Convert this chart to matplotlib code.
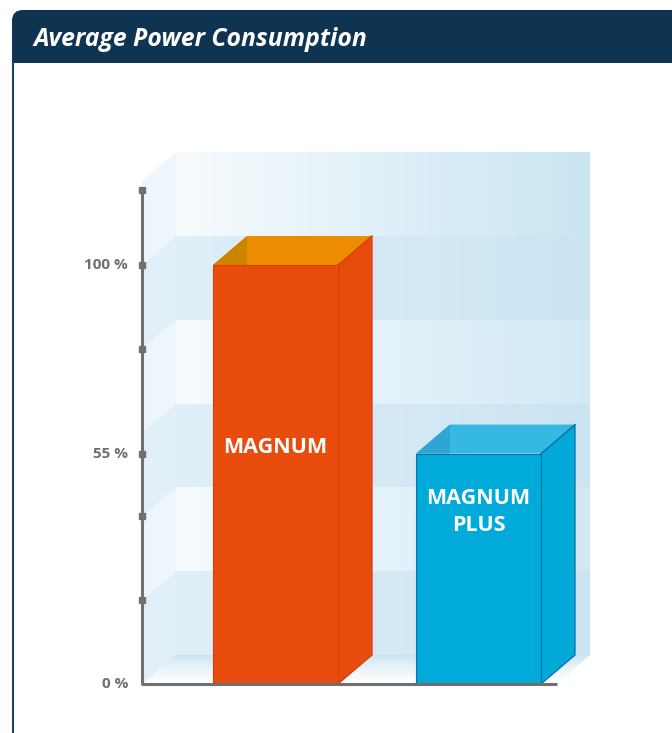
import numpy as np
import matplotlib
matplotlib.use("Agg")
import matplotlib.pyplot as plt
from matplotlib.patches import Polygon, Rectangle, FancyBboxPatch
from matplotlib.colors import to_rgb

# ---------------- data ----------------
categories = ["MAGNUM", "MAGNUM\nPLUS"]
values = [100, 55]
tick_values = [20, 40, 55, 80, 100, 118]
label_values = [0, 55, 100]
label_texts = ["0 %", "55 %", "100 %"]
grid_values = [0, 20, 40, 60, 80, 100, 120]
title = "Average Power Consumption"

# ---------------- layout ----------------
W, H, DPI = 672, 733, 100
X0, UNIT = 275.5, 203.0          # px of category 0, px per category unit
PX_PER_PCT = 4.19
BASE_PX = 684
TOP_VAL = 130
BAR_W = 125 / UNIT
DX = 34 / UNIT
DY = 29 / PX_PER_PCT
label_y = [56.5, 41.0]

def xd(px):
    return (px - X0) / UNIT

plt.rcParams['font.family'] = ['Open Sans', 'DejaVu Sans']

fig = plt.figure(figsize=(W / DPI, H / DPI), dpi=DPI)
fig.patch.set_facecolor('white')

# background / decoration axes in pixel coordinates
bg = fig.add_axes([0, 0, 1, 1])
bg.set_xlim(0, W)
bg.set_ylim(H, 0)
bg.axis('off')
navy = '#0f3452'
bg.add_patch(FancyBboxPatch((12, 10), 720, 53, boxstyle="round,pad=0,rounding_size=11",
                            fc=navy, ec='none', zorder=1))
bg.add_patch(Rectangle((12, 40), 720, 23, fc=navy, ec='none', zorder=1))
bg.plot([13, 13], [62, H + 2], color='#1b4463', lw=1.5, zorder=1, solid_capstyle='butt')
bg.text(33, 39, title, color='white', fontsize=17.8, fontweight='bold', fontstyle='italic',
        va='center', ha='left', zorder=2)

# main chart axes
top_px = BASE_PX - TOP_VAL * PX_PER_PCT
ax = fig.add_axes([142 / W, (H - BASE_PX) / H, (600 - 142) / W, (BASE_PX - top_px) / H])
ax.patch.set_alpha(0)
ax.axis('off')

def gradient_img(c1, c2, n=256, vertical=False, power=1.0):
    t = np.linspace(0, 1, n) ** power
    a, b = np.array(to_rgb(c1)), np.array(to_rgb(c2))
    g = a[None, :] * (1 - t[:, None]) + b[None, :] * t[:, None]
    if vertical:
        return g[:, None, :]
    return g[None, :, :]

# back wall bands
xb0, xb1 = xd(176), xd(590)
for k in range(len(grid_values) - 1):
    lo, hi = grid_values[k], grid_values[k + 1]
    if k % 2 == 0:
        c1, c2 = '#e0eff8', '#cae4f2'
    else:
        c1, c2 = '#f7fbfd', '#d2e9f5' if k < 5 else '#c9e5f2'
    ax.imshow(gradient_img(c1, c2), extent=[xb0, xb1, lo + DY, hi + DY],
              aspect='auto', interpolation='bilinear', zorder=0)

# left side wall bands
xs0, xs1 = xd(142), xd(176)
for k in range(len(grid_values) - 1):
    lo, hi = grid_values[k], grid_values[k + 1]
    col = '#e1eff8' if k % 2 == 0 else '#eef6fb'
    ax.add_patch(Polygon([(xs0, lo), (xs1, lo + DY), (xs1, hi + DY), (xs0, hi)],
                         closed=True, fc=col, ec='none', zorder=0.5))

# floor
floor = Polygon([(xd(142), 0), (xd(557), 0), (xd(590), DY), (xd(176), DY)],
                closed=True, fc='none', ec='none')
ax.add_patch(floor)
fimg = gradient_img('#c3e1f1', '#ffffff', vertical=True, power=0.6)
im = ax.imshow(fimg, extent=[xd(142), xd(590), 0, DY], aspect='auto',
               interpolation='bilinear', zorder=0.6, origin='upper')
im.set_clip_path(floor)

# bars
styles = [
    dict(front='#e94d0d', side='#e84c0d', edge='#dc3a08', top='#ec8c00', topd='#cc8300'),
    dict(front='#00aad9', side='#00a9d8', edge='#0b6fa6', top='#36b9e1', topd='#2ea6d4'),
]
for i, (cat, v) in enumerate(zip(categories, values)):
    s = styles[i]
    x0, x1 = i - BAR_W / 2, i + BAR_W / 2
    # side
    ax.add_patch(Polygon([(x1, 0), (x1 + DX, DY), (x1 + DX, v + DY), (x1, v)], closed=True,
                         fc=s['side'], ec=s['edge'], lw=0.9, zorder=3, clip_on=False))
    # top
    ax.add_patch(Polygon([(x0, v), (x1, v), (x1 + DX, v + DY), (x0 + DX, v + DY)], closed=True,
                         fc=s['top'], ec='none', zorder=3, clip_on=False))
    ax.add_patch(Polygon([(x0, v), (x0 + DX, v + DY), (x0 + DX, v)], closed=True,
                         fc=s['topd'], ec='none', zorder=3.1, clip_on=False))
    ax.plot([x1, x1 + DX], [v, v + DY], color=s['edge'], lw=0.9, zorder=3.2, clip_on=False)
    # front
    ax.add_patch(Rectangle((x0, 0), BAR_W, v, fc=s['front'], ec=s['edge'], lw=0.8,
                           zorder=4, clip_on=False))
    ax.text(i, label_y[i], cat, color='white', fontsize=15.5, fontweight='bold',
            ha='center', va='center', linespacing=1.35, zorder=5)

# axis lines and ticks
axis_col = '#707070'
ax.plot([xd(142), xd(142)], [0, 118], color=axis_col, lw=2.2, zorder=6,
        solid_capstyle='butt', clip_on=False)
ax.plot([xd(141), xd(557)], [0, 0], color=axis_col, lw=2.2, zorder=6,
        solid_capstyle='butt', clip_on=False)
ax.plot([xd(142)] * len(tick_values), tick_values, 's', ms=5, color=axis_col,
        zorder=7, clip_on=False)
for v, t in zip(label_values, label_texts):
    ax.text(xd(128), v, t, ha='right', va='center', fontsize=11, fontweight='bold',
            color='#6f6f6f', zorder=7)

ax.set_xlim(xd(142), xd(600))
ax.set_ylim(0, TOP_VAL)

fig.savefig('out.png', dpi=DPI, facecolor='white')
